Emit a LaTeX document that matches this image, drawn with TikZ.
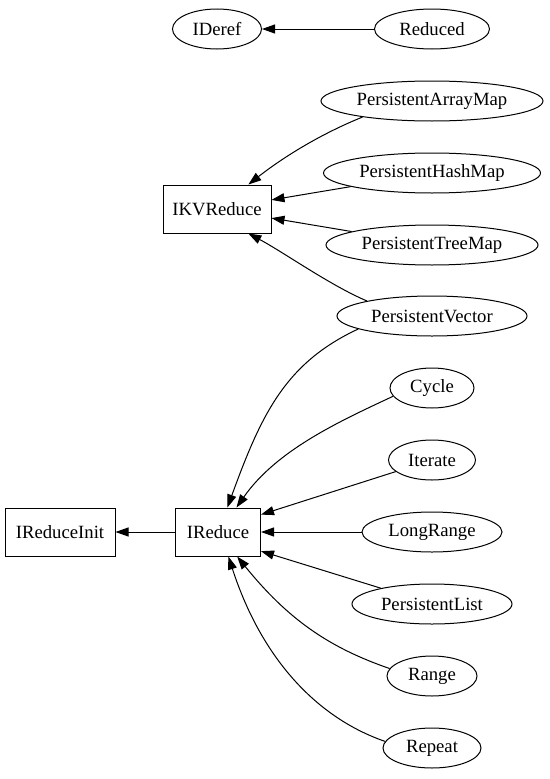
\documentclass[tikz,border=0pt]{standalone}
\usepackage{fontspec}
\setmainfont{Liberation Serif}
\usepackage{tikz}
\usetikzlibrary{arrows.meta,shapes.geometric}

\begin{document}
\begin{tikzpicture}[
		x=1pt, y=1pt,
		font=\fontsize{18.7}{22}\selectfont,
		iface/.style={
			rectangle, draw=black, line width=1pt,
			minimum height=48pt, inner sep=0pt
		},
		impl/.style={
			ellipse, draw=black, line width=1pt,
			minimum height=40pt, inner sep=0pt
		},
		arr/.style={-{Triangle[length=13pt,width=9pt]}, line width=1pt, black}
		]
		\useasboundingbox (0,0) rectangle (549,-779);
		
		% interfaces
		\node[iface, minimum width=108pt] (ikvreduce)   at (217,-209) {IKVReduce};
		\node[iface, minimum width=85pt]  (ireduce)     at (218,-532) {IReduce};
		\node[iface, minimum width=110pt] (ireduceinit) at (60,-532)  {IReduceInit};
		\node[impl, minimum width=89pt]   (ideref)      at (217,-29)  {IDeref};
		
		% implementations
		\node[impl, minimum width=115pt] (reduced)   at (432,-29)  {Reduced};
		\node[impl, minimum width=222pt] (arraymap)  at (432,-101) {PersistentArrayMap};
		\node[impl, minimum width=217pt] (hashmap)   at (432,-173) {PersistentHashMap};
		\node[impl, minimum width=212pt] (treemap)   at (432,-245) {PersistentTreeMap};
		\node[impl, minimum width=190pt] (vector)    at (432,-316) {PersistentVector};
		\node[impl, minimum width=84pt]  (cycle)     at (432,-388) {Cycle};
		\node[impl, minimum width=87pt]  (iterate)   at (432,-460) {Iterate};
		\node[impl, minimum width=140pt] (longrange) at (432,-532) {LongRange};
		\node[impl, minimum width=160pt] (plist)     at (432,-604) {PersistentList};
		\node[impl, minimum width=90pt]  (range)     at (432,-676) {Range};
		\node[impl, minimum width=98pt]  (repeat)    at (432,-748) {Repeat};
		
		\foreach \a/\b in {reduced/ideref, hashmap/ikvreduce, treemap/ikvreduce,
			longrange/ireduce, ireduce/ireduceinit}
		\draw[arr] (\a) -- (\b);
		\draw[arr] (iterate) -- (ireduce.22);
		\draw[arr] (plist) -- (ireduce.-24);
		
		\draw[arr] (arraymap.193) .. controls +(202:45) and +(38:45) .. (ikvreduce.38);
		\draw[arr] (vector.167) .. controls +(157:40) and +(-28:40) .. (ikvreduce.-38);
		\draw[arr] (vector.190) .. controls +(205:80) and +(70:100) .. (ireduce.69);
		\draw[arr] (cycle.192) .. controls +(205:60) and +(55:70) .. (ireduce.53);
		\draw[arr] (range.170) .. controls +(161:65) and +(-51:80) .. (ireduce.-52);
		\draw[arr] (repeat.172) .. controls +(161:70) and +(-72:110) .. (ireduce.-67);
\end{tikzpicture}
\end{document}
